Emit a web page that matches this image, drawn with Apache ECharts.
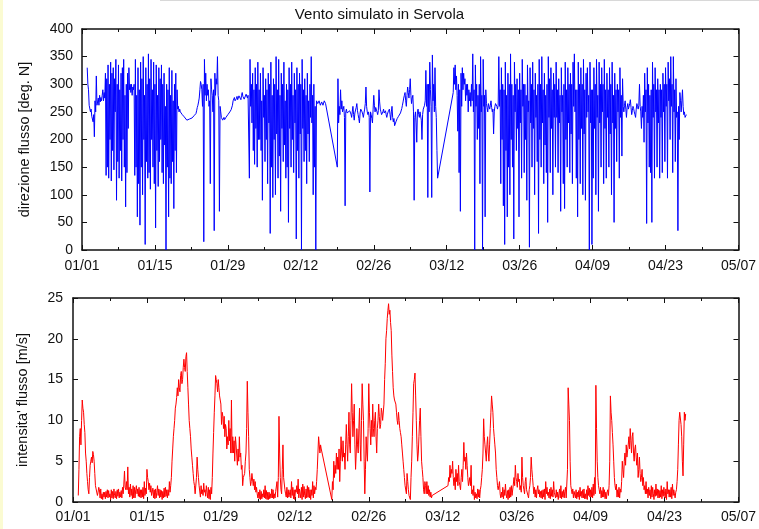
<!DOCTYPE html>
<html><head><meta charset="utf-8">
<script src="https://cdn.jsdelivr.net/npm/echarts@6/dist/echarts.min.js"></script>
<style>html,body{margin:0;padding:0;background:#fff}#c{width:759px;height:529px}</style>
</head><body><div id="c"></div>
<script>
// Day 0 = 01/01 (non-leap year); rows are days 1,2,3...; 8 samples per day (every 3 h)
const BASE_YEAR = 2007;
const SAMPLES_PER_DAY = 8;
const xMaxDay = 126;   // 05/07
const xStepDays = 14;
const titleText = 'Vento simulato in Servola';
const dirAxisName = 'direzione flusso [deg. N]';
const spdAxisName = "intensita' flusso [m/s]";
const N = null;

// direction [deg N]
const dirByDay = [
 [330,300,290,262,265,250,255,242],[240,232,245,205,270,250,315,262],[265,275,262,280,268,276,270,280],
 [290,270,285,275,320,135,310,150],[335,130,300,200,340,125,320,180],                                   // 1-5
 [330,145,310,250,345,90,300,160],[335,130,290,180,320,125,330,200],[345,150,280,78,300,140,320,220],
 [330,290,300,285,300,280,295,290],[300,135,345,150,280,60,330,120],                                    // 6-10
 [290,45,340,150,310,100,350,200],[280,10,330,160,300,130,355,140],[310,110,345,200,290,150,340,120],
 [300,40,335,180,280,115,330,160],[310,200,335,140,300,120,320,190],                                    // 11-15
 [260,0,300,150,290,60,330,130],[280,120,325,160,270,75,300,180],[320,140,290,255,260,250,255,250],
 [250,248,245,244,243,241,240,240],[238,235,233,236,238,237,236,235],                                   // 16-20
 [240,239,238,241,243,244,245,247],[252,258,262,268,275,290,305,300],[290,260,300,15,345,280,320,270],
 [300,280,290,260,270,120,310,290],[280,250,290,35,320,280,310,300],                                    // 21-25
 [350,280,270,70,260,250,240,238],[235,238,240,236,237,240,243,241],[245,246,248,250,252,254,256,262],
 [270,273,276,270,268,274,278,272],[275,279,282,276,272,280,285,278],                                   // 26-30
 [278,273,270,276,282,279,275,280],[280,130,345,260,300,230,320,180],[290,155,330,220,300,150,340,200],
 [290,200,320,180,270,90,330,240],[280,160,310,200,290,120,320,230],                                    // 31-35
 [300,30,340,150,280,95,310,200],[300,100,350,210,290,130,345,170],[280,70,320,220,300,160,340,190],
 [270,130,300,150,290,50,330,220],[300,150,340,200,280,140,320,230],                                    // 36-40
 [290,20,330,180,300,130,320,210],[300,0,345,220,290,160,310,180],[280,120,320,210,270,160,300,240],
 [350,230,280,100,300,150,260,0],[270,268,265,267,270,266,262,265],                                     // 41-45
 [268,265,262,266,270,268,265,266],[265,N,N,N,N,N,N,N],[N,N,N,N,N,N,N,N],
 [150,310,230,260,245,290,255,270],[250,255,260,240,80,250,255,248],                                    // 46-50
 [250,248,245,252,255,246,240,250],[260,245,235,248,250,258,265,252],[245,238,230,248,255,252,250,246],
 [240,248,255,265,295,260,250,245],[250,240,105,250,245,238,230,255],                                   // 51-55
 [280,262,250,258,255,250,245,252],[290,268,255,250,245,248,250,255],[248,250,252,245,240,246,250,252],
 [255,245,235,250,260,240,232,238],[225,228,232,235,238,240,242,244],                                   // 56-60
 [245,248,250,256,262,268,275,280],[285,270,260,280,295,285,275,290],[310,280,265,275,280,250,90,240],
 [250,230,195,250,255,245,240,250],[250,235,200,245,255,258,262,270],                                   // 61-65
 [325,260,300,95,300,250,340,290],[260,95,353,270,300,250,330,260],[240,180,130,N,N,N,N,N],
 [N,N,N,N,N,N,N,N],[N,N,N,N,N,N,N,N],                                                                   // 66-70
 [N,N,285,330,300,335,290,315],[280,215,300,140,290,70,320,260],[330,290,320,300,310,270,300,280],
 [300,250,290,270,285,260,300,270],[355,250,290,0,335,260,300,200],                                     // 71-75
 [280,220,300,120,350,250,280,0],[345,260,280,60,290,265,258,250],[265,260,255,262,270,258,250,255],
 [210,250,260,265,268,260,255,262],[350,260,290,120,330,200,300,80],                                    // 76-80
 [290,10,340,180,280,60,320,150],[300,100,355,200,300,150,280,20],[340,250,300,180,310,220,290,60],
 [320,230,290,130,345,260,300,140],[300,200,280,90,335,250,270,5],                                      // 81-85
 [330,230,300,150,340,220,290,100],[320,240,280,160,300,30,345,200],[300,150,350,230,290,120,320,190],
 [280,140,300,50,350,240,310,140],[330,220,290,100,320,240,300,150],                                    // 86-90
 [340,240,290,140,310,230,280,70],[330,250,280,120,300,75,340,200],[290,150,330,230,300,140,320,210],
 [300,120,340,260,355,250,290,130],[290,60,340,200,300,120,330,220],                                    // 91-95
 [300,100,345,210,290,90,320,240],[330,250,280,0,340,230,290,10],[290,130,330,220,300,100,345,240],
 [280,70,340,230,300,150,330,250],[300,120,345,220,290,130,320,240],                                    // 96-100
 [290,150,330,210,300,100,340,230],[280,50,320,220,290,160,300,250],[290,130,330,240,280,170,310,260],
 [250,262,270,255,240,258,265,255],[255,265,272,258,245,252,260,256],                                   // 101-105
 [250,245,240,255,265,260,255,262],[300,260,250,220,260,240,280,195],[320,250,290,48,330,230,300,150],
 [280,140,290,50,340,240,300,130],[330,250,290,150,310,230,290,130],                                    // 106-110
 [300,240,290,140,320,250,300,160],[330,260,300,130,340,270,310,200],[350,260,300,140,350,250,290,160],
 [310,240,250,35,260,200,285,270],[250,270,290,260,245,250,240,242],                                    // 111-115
 [245]                                                                                                  // 116
];

// speed [m/s]
const spdByDay = [
 [0.8,4,8,9,7,10,12.5,11.5],[11,9.5,8.5,6,5,3.5,2.5,1.5],[1,3,4.5,5,5.5,4.8,6.2,5.8],
 [5,3.5,2,1.6,1.5,0.8,1.2,1.8],[1.5,0.5,1.6,0.4,1,0.3,1.2,0.6],                                        // 1-5
 [1.2,0.4,1.3,0.6,1.5,0.5,1.4,0.6],[1,0.3,1.5,0.5,1.3,0.4,1.6,0.8],[0.5,1.3,0.4,1.5,0.7,1.6,0.5,1.2],
 [0.6,1.4,0.5,1.8,1,2.2,3.8,1.8],[1.5,2.5,1.5,4.3,1,1.8,0.6,2.2],                                       // 6-10
 [0.8,1.6,0.4,2,0.5,1.8,0.5,1.5],[2,1,1.6,0.7,1.8,0.6,1.5,0.5],[1.5,0.6,1.8,0.4,2.5,0.8,1.7,1],
 [4,3,2.5,1.5,2.3,1.2,2,0.8],[0.6,1.7,0.5,1.5,0.4,1.6,0.5,1.2],                                         // 11-15
 [2,0.8,1.6,0.5,1.5,0.6,1.4,0.3],[1.3,0.5,1.7,0.6,1.8,0.7,1.5,0.5],[1.5,0.8,2.5,1.2,2,3,5,6.5],
 [8,9,10,11.5,12,12.8,14,13],[15,14,13.5,15.5,16,14.5,15,16.5],                                         // 16-20
 [17.5,16.5,16,17.8,18.3,16,14,12],[10,9,8,6.5,5.5,4.5,3.5,2.5],[2,1,0.8,3,5.5,4,3,2],
 [2,0.6,2,1,1.5,0.8,2.3,1.2],[1.5,0.7,2,1.2,0.5,1.8,0.4,1.5],                                           // 21-25
 [0.3,1.8,1,3,6,8.5,11,13],[15.5,15,14.5,13.5,15,14,13,12.5],[12,9.5,11,10.5,9,10.5,8,9.5],
 [9,6.5,8,7,10,7.5,9,6],[12.5,6,8,6,7.5,5,8,7],                                                         // 26-30
 [7,4.5,6.5,5,8,5.5,6,4],[4.5,2,3,2.8,3.5,5,6,9],[14.8,11,8,4,3,2,2.5,3.5],
 [3.5,2,2.8,1.5,2.5,1.2,1.8,1],[0.5,1.2,0.4,1.5,0.3,1.3,0.4,1],                                         // 31-35
 [0.6,1.5,0.5,2,0.4,1.4,0.3,1.2],[0.3,1.2,0.4,1,0.5,1.6,0.5,1.5],[0.4,1,0.5,1.3,1.2,2.5,0.6,3],
 [10.5,6,3,1.5,1,4,7,3],[3,1.5,1,0.6,1.8,0.5,1.5,0.6],                                                  // 36-40
 [0.4,1.5,0.5,2.5,0.8,1.8,0.4,1.5],[0.3,1.5,1.2,2,1,2.8,0.5,1.6],[1.5,0.5,1.8,0.3,2.2,0.6,1.9,0.8],
 [0.4,1.6,0.5,2,0.6,1.8,0.5,1.5],[0.3,1.5,0.8,2.5,0.5,2,1,1.8],                                         // 41-45
 [1.5,2.5,4,6,8,7,6,7],[6.5,N,N,N,N,N,N,N],[N,N,N,N,N,N,N,N],
 [0.3,2.5,1.5,5,3,4.5,3.5,6],[4,5.5,4,6.5,2.5,5,8,6],                                                   // 46-50
 [5,7.5,5.5,6,4,7,9.5,7],[5,8,11,7,6,10,14.5,11],[8,10,12,7,4,6,9,7],
 [6,9,11.5,7,5,10,14.5,12],[10,5,1,4,8,6,5,9],                                                          // 51-55
 [14.5,11,9,7,10,8,12,9],[8,10,11,8,6,9,10,12],[10.5,9,9.5,11.5,11,10,10,12],
 [15,17,20,21,22.5,23.5,24.3,23],[23.5,22,21,18,16,14,13,12.5],                                         // 56-60
 [12.5,12,11,10,9.5,11,10,9],[8.5,8,7,6,5,4,3,2],[2,1,3.5,2.5,1.5,0.8,1,0.3],
 [3,5,8,11,14.5,15,15.8,13],[10,7,5,6,8,10,11.5,8],                                                     // 61-65
 [5,4,3,1.5,1,2.5,2,1],[2.5,1,2,0.8,1.5,0.6,1.2,0.5],[0.8,N,N,N,N,N,N,N],
 [N,N,N,N,N,N,N,N],[N,N,N,N,N,N,N,N],                                                                   // 66-70
 [2,3,2.5,4.5,3,4,3.5,5],[3,2,3,1.5,4,2.5,3.5,2],[4.5,2.5,2,1.5,3,4,2.5,4.5],
 [7.3,5,5.5,4,6,4.5,3,2],[2,3,2,4.5,1,1.5,0.8,2],                                                       // 71-75
 [0.3,1.2,0.5,1,0.4,1.6,0.6,1.5],[0.5,1.5,2,3,4,6,10.2,8],[7,6,5,7,8,6,5,7],
 [9,11,13,12,11,9,8,7],[6,4,3,2,1.5,2,2.5,1],                                                           // 76-80
 [0.5,1.2,0.6,1.8,0.4,1.5,0.8,2.2],[1,0.5,1.4,0.3,1.5,0.5,1.8,0.6],[2,0.8,1,2.2,3,2,4.5,3],
 [2.5,1.8,3.5,2.5,2.8,1.5,2,1.2],[5.5,3,2,1.5,1,2.5,3,1.5],                                             // 81-85
 [1.5,0.8,0.5,1.5,2,3,5.5,4],[3,2,1,1.8,0.6,1.5,0.5,1.5],[2,1,1.5,0.6,1.3,0.5,1.4,0.4],
 [1.5,0.6,1.6,0.3,2.5,1,1.8,0.8],[1.2,0.5,1.6,0.4,1.8,0.7,1.5,0.6],                                     // 86-90
 [2.5,1.2,1.4,0.5,1.5,0.6,1.2,0.3],[1,1.6,0.5,2,0.4,1.3,0.6,1.5],[0.5,1.3,1.8,0.5,0.6,4,14,12],
 [10,5,2,1.5,1,1.6,0.5,1.3],[1.5,0.5,1.5,0.4,1.2,0.6,1.4,0.3],                                          // 91-95
 [1.8,0.7,1.3,0.5,1.5,0.5,1.6,0.4],[1,0.4,1.5,0.3,2,0.8,1.7,0.6],[1.5,0.6,1.8,0.5,2.2,0.8,3,1],
 [14.3,9,5,3,2,1.5,1,1.8],[0.5,1.4,0.6,1.8,0.6,1.5,0.4,1.2],                                            // 96-100
 [0.4,1.2,1.5,0.8,2,5,13,11],[10,8.5,7,5,3,2,1.5,2.2],[0.6,1.5,0.6,1.8,0.5,1.6,1.2,2.5],
 [5,4,3,5,6,4.5,7,5.5],[5.5,7,8,6.5,9,7.5,6,8],                                                         // 101-105
 [8.5,6,5,6.5,7,5.5,4.5,6],[3,4,5.5,3.5,2.5,3,4,2],[3,1.5,2,1,2.5,1,1.6,0.5],
 [1.8,0.8,1.5,0.4,2,0.6,1.8,1],[0.3,1.5,0.7,2.2,0.8,1.6,0.5,1.5],                                       // 106-110
 [0.5,1.4,0.6,2,0.4,1.5,0.7,1.8],[1,0.5,1.6,0.3,2.5,1,1.5,0.6],[1.5,0.6,1.8,0.4,2.2,0.8,1.5,1],
 [0.5,1.2,1.5,2.5,4,7,10,11],[11,9.5,8,5,3.2,7,11,10],                                                  // 111-115
 [10.8]                                                                                                 // 116
];

function toPairs(rows){
  const out = [];
  rows.forEach((r,i)=>r.forEach((v,j)=>{ if(v!==null) out.push([i+1+j/SAMPLES_PER_DAY, v]); }));
  return out;
}
function fmtDay(v){
  const d = new Date(Date.UTC(BASE_YEAR,0,1+Math.round(v)));
  return String(d.getUTCMonth()+1).padStart(2,'0')+'/'+String(d.getUTCDate()).padStart(2,'0');
}
const FONT = 'Liberation Sans, Arial, sans-serif';
const AX = '#111';
function xAx(grid,pos,labels,margin){
  return {type:'value',gridIndex:grid,position:pos,min:0,max:xMaxDay,interval:xStepDays,
    axisLine:{show:true,onZero:false,lineStyle:{color:AX,width:1.5}},
    axisTick:{show:true,inside:true,length:5,lineStyle:{color:AX,width:1}},
    minorTick:{show:true,splitNumber:2,length:3,lineStyle:{color:AX,width:1}},
    axisLabel:{show:labels,formatter:fmtDay,margin:margin,fontSize:14,color:'#111',fontFamily:FONT},
    splitLine:{show:false},minorSplitLine:{show:false}};
}
function yAx(grid,pos,max,step,labels,margin,name,gap){
  return {type:'value',gridIndex:grid,position:pos,min:0,max:max,interval:step,
    name:labels?name:'',nameLocation:'middle',nameGap:gap,nameRotate:90,
    nameTextStyle:{fontSize:14.5,color:'#111',fontFamily:FONT},
    axisLine:{show:true,onZero:false,lineStyle:{color:AX,width:1.5}},
    axisTick:{show:true,inside:true,length:5,lineStyle:{color:AX,width:1}},
    axisLabel:{show:labels,margin:margin,fontSize:14,color:'#111',fontFamily:FONT},
    splitLine:{show:false}};
}
const chart = echarts.init(document.getElementById('c'),null,{renderer:'canvas'});
chart.setOption({
  animation:false,
  backgroundColor:'#ffffff',
  title:{text:titleText,left:'center',top:2,textStyle:{fontSize:15,fontWeight:'normal',color:'#111',fontFamily:FONT}},
  graphic:[
    {type:'rect',shape:{x:0,y:0,width:3,height:529},style:{fill:'#fbfbd2'},silent:true},
    {type:'rect',shape:{x:160,y:0,width:599,height:1},style:{fill:'#d8d8d8'},silent:true}
  ],
  grid:[
    {left:82,top:29,width:657,height:221},
    {left:73,top:298,width:666,height:204}
  ],
  xAxis:[xAx(0,'bottom',true,9),xAx(0,'top',false,0),xAx(1,'bottom',true,8),xAx(1,'top',false,0)],
  yAxis:[yAx(0,'left',400,50,true,9,dirAxisName,50),yAx(0,'right',400,50,false,0,'',0),
         yAx(1,'left',25,5,true,10,spdAxisName,43),yAx(1,'right',25,5,false,0,'',0)],
  series:[
    {type:'line',xAxisIndex:0,yAxisIndex:0,data:toPairs(dirByDay),showSymbol:false,symbol:'none',
     lineStyle:{color:'#0000ff',width:1},itemStyle:{color:'#0000ff'}},
    {type:'line',xAxisIndex:2,yAxisIndex:2,data:toPairs(spdByDay),showSymbol:false,symbol:'none',
     lineStyle:{color:'#ff0000',width:1},itemStyle:{color:'#ff0000'}}
  ]
});
</script></body></html>
